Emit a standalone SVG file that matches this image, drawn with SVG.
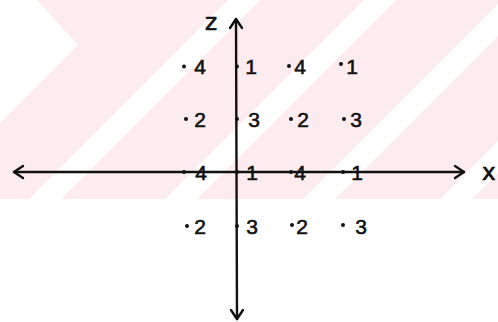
<svg xmlns="http://www.w3.org/2000/svg" width="498" height="322" viewBox="0 0 498 322">
  <style>
    .bg { fill: #fdecef; }
    .gap { fill: #ffffff; }
    .axis { stroke: #111; stroke-width: 2.4; fill: none; stroke-linecap: round; }
    .dot { fill: #111; }
    .lbl { font-family: "Liberation Sans", Arial, sans-serif; font-size: 21px; fill: #111; stroke: #111; stroke-width: 0.6; text-anchor: middle; }
    .ax { font-family: "DejaVu Sans", "Liberation Sans", sans-serif; font-size: 23px; fill: #111; stroke: #111; stroke-width: 0.7; }
  </style>
  <defs>
    <marker id="arr" markerUnits="userSpaceOnUse" markerWidth="14" markerHeight="16" viewBox="-12 -8 14 16" refX="0" refY="0" orient="auto-start-reverse">
      <path d="M-9,-6 L0,0 L-9,6" fill="none" stroke="#111" stroke-width="2.4" stroke-linecap="round" stroke-linejoin="round"/>
    </marker>
  </defs>

  <rect width="498" height="322" fill="#ffffff"/>
  <g id="background">
    <rect class="bg" x="0" y="0" width="498" height="199"/>
    <polygon class="gap" points="0,0 37,0 78,45 0,123"/>
    <polygon class="gap" points="228,0 260,0 61,199 29,199"/>
    <polygon class="gap" points="364,0 396,0 197,199 165,199"/>
    <polygon class="gap" points="502,0 534,0 335,199 303,199"/>
    <polygon class="gap" points="639,0 671,0 472,199 440,199"/>
  </g>

  <g id="connectors">
    <line class="axis" x1="236" y1="19" x2="237" y2="319" marker-start="url(#arr)" marker-end="url(#arr)"/>
    <line class="axis" x1="14" y1="172" x2="464" y2="172" marker-start="url(#arr)" marker-end="url(#arr)"/>
  </g>

  <g id="axis-z"><text class="ax" x="205" y="30">z</text></g>
  <g id="axis-x"><text class="ax" x="482" y="180">x</text></g>

  <g id="r1a"><circle class="dot" cx="184" cy="66.5" r="2"/><text class="lbl" x="200" y="74">4</text></g>
  <g id="r1b"><circle class="dot" cx="237" cy="66.5" r="2"/><text class="lbl" x="251" y="74">1</text></g>
  <g id="r1c"><circle class="dot" cx="289" cy="66" r="2"/><text class="lbl" x="300" y="74">4</text></g>
  <g id="r1d"><circle class="dot" cx="341" cy="64" r="2"/><text class="lbl" x="352" y="74">1</text></g>

  <g id="r2a"><circle class="dot" cx="186" cy="119" r="2"/><text class="lbl" x="200" y="127">2</text></g>
  <g id="r2b"><circle class="dot" cx="237" cy="119" r="2"/><text class="lbl" x="254" y="127">3</text></g>
  <g id="r2c"><circle class="dot" cx="291" cy="119" r="2"/><text class="lbl" x="303" y="127">2</text></g>
  <g id="r2d"><circle class="dot" cx="344" cy="119" r="2"/><text class="lbl" x="356" y="127">3</text></g>

  <g id="r3a"><circle class="dot" cx="184" cy="172" r="2"/><text class="lbl" x="201" y="180">4</text></g>
  <g id="r3b"><circle class="dot" cx="237" cy="172" r="2"/><text class="lbl" x="252" y="180">1</text></g>
  <g id="r3c"><circle class="dot" cx="291" cy="172" r="2"/><text class="lbl" x="300" y="180">4</text></g>
  <g id="r3d"><circle class="dot" cx="343" cy="172" r="2"/><text class="lbl" x="357" y="180">1</text></g>

  <g id="r4a"><circle class="dot" cx="187" cy="226" r="2"/><text class="lbl" x="200" y="234">2</text></g>
  <g id="r4b"><circle class="dot" cx="237" cy="226" r="2"/><text class="lbl" x="252" y="234">3</text></g>
  <g id="r4c"><circle class="dot" cx="292" cy="225" r="2"/><text class="lbl" x="302" y="234">2</text></g>
  <g id="r4d"><circle class="dot" cx="343" cy="225" r="2"/><text class="lbl" x="361" y="234">3</text></g>
</svg>
